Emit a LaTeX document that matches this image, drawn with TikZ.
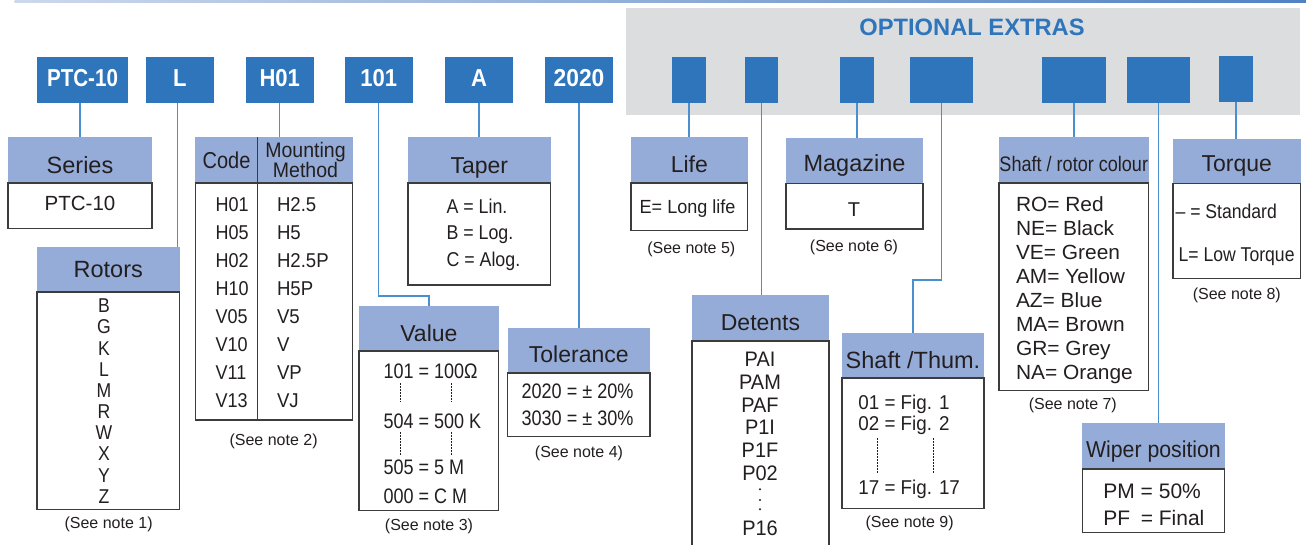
\documentclass[tikz,border=0pt]{standalone}
\usepackage{fontspec}
\setmainfont{Liberation Sans}
\usepackage{graphicx}
\usetikzlibrary{calc}
\definecolor{boxblue}{RGB}{46,117,187}
\definecolor{hdrblue}{RGB}{149,172,216}
\definecolor{panelgray}{RGB}{220,221,223}
\definecolor{connblue}{RGB}{74,143,208}
\definecolor{bordergray}{RGB}{60,60,60}
\definecolor{txt}{RGB}{35,31,32}
\definecolor{optblue}{RGB}{46,117,187}
\definecolor{toplight}{RGB}{205,216,236}
\definecolor{topdark}{RGB}{80,130,195}
\newcommand\setfs[1]{\fontsize{#1}{#1}\selectfont}
\newcommand\hsc[2]{\scalebox{#1}[1]{#2}}
\newcommand\pbox[6]{\node[#1, minimum width={#5-#3}, minimum height={#6-#4}] (#2) at (#3,#4) {};}
\begin{document}
\begin{tikzpicture}[x=1pt,y=-1pt,
  every node/.style={inner sep=0, outer sep=0},
  bluebox/.style={fill=boxblue, anchor=north west},
  hdr/.style={fill=hdrblue, anchor=north west},
  bodyb/.style={draw=bordergray, line width=1.3, anchor=north west},
  conn/.style={draw=connblue, line width=1.2},
  lb/.style={anchor=base, text=txt},
  lbw/.style={anchor=base west, text=txt},
  boxlbl/.style={anchor=base, text=white, font=\bfseries\setfs{24.5}},
  title/.style={anchor=base, text=txt, font=\setfs{23}},
  note/.style={anchor=base, text=txt, font=\setfs{16}},
  dotl/.style={draw=txt, line width=0.6, dash pattern=on 1.5pt off 1.5pt},
  divl/.style={draw=bordergray, line width=1.3},
]
\useasboundingbox (0,0) rectangle (1306,544);
\fill[white] (0,0) rectangle (1306,544);
\shade[left color=toplight, right color=topdark] (14.5,0) rectangle (1306,2);
% optional extras panel
\pbox{fill=panelgray, anchor=north west}{panel}{626}{8}{1300}{115}
\node[anchor=base, text=optblue, font=\bfseries\setfs{23.7}] (opt) at (972,35) {OPTIONAL EXTRAS};

% blue code boxes
\pbox{bluebox}{ptc}{37}{57}{128}{103}
\pbox{bluebox}{L}{146}{57}{213.5}{103}
\pbox{bluebox}{h01}{246}{57}{313.5}{103}
\pbox{bluebox}{v101}{345}{57}{412.5}{103}
\pbox{bluebox}{a}{445}{57}{513}{103}
\pbox{bluebox}{y2020}{545}{57}{613}{103}
\pbox{bluebox}{b1}{672}{57}{706}{103}
\pbox{bluebox}{b2}{745}{57}{778}{103}
\pbox{bluebox}{b3}{840}{57}{874}{103}
\pbox{bluebox}{b4}{910}{57}{973}{103}
\pbox{bluebox}{b5}{1042}{57}{1106}{103}
\pbox{bluebox}{b6}{1127}{57}{1190}{103}
\pbox{bluebox}{b7}{1219}{56}{1253}{102}
\node[boxlbl] (ptc-t) at (ptc.center |- 0,86) {\hsc{0.84}{PTC-10}};
\node[boxlbl] (L-t) at (L.center |- 0,86) {\hsc{0.9}{L}};
\node[boxlbl] (h01-t) at (h01.center |- 0,86) {\hsc{0.9}{H01}};
\node[boxlbl] (v101-t) at (v101.center |- 0,86) {\hsc{0.9}{101}};
\node[boxlbl] (a-t) at (a.center |- 0,86) {\hsc{0.9}{A}};
\node[boxlbl] (y2020-t) at (y2020.center |- 0,86) {\hsc{0.93}{2020}};

% headers and bodies
\pbox{hdr}{series}{8}{137}{152}{183}
\pbox{bodyb}{seriesb}{8}{183}{152}{228.3}
\pbox{hdr}{rotors}{37}{247}{179.5}{292}
\pbox{bodyb}{rotorsb}{37}{292}{179.5}{509.3}
\pbox{hdr}{code}{195.3}{137}{352.8}{183}
\pbox{bodyb}{codeb}{195.3}{183}{352.8}{420}
\pbox{hdr}{taper}{408}{137}{550.6}{183}
\pbox{bodyb}{taperb}{408}{183}{550.6}{285}
\pbox{hdr}{value}{359}{306}{498.8}{351}
\pbox{bodyb}{valueb}{359}{351}{498.8}{510.7}
\pbox{hdr}{tol}{507.5}{328}{650}{373}
\pbox{bodyb}{tolb}{507.5}{373}{650}{436.7}
\pbox{hdr}{life}{631}{137}{747.7}{183}
\pbox{bodyb}{lifeb}{631}{183}{747.7}{230.7}
\pbox{hdr}{mag}{786}{138}{923}{183.3}
\pbox{bodyb}{magb}{786}{183.3}{923}{229}
\pbox{hdr}{col}{999}{137}{1148.5}{183}
\pbox{bodyb}{colb}{999}{183}{1148.5}{390.7}
\pbox{hdr}{torq}{1173}{139}{1300.5}{183.7}
\pbox{bodyb}{torqb}{1173}{183.7}{1300.5}{278.3}
\pbox{hdr}{det}{692}{295}{829}{341}
\pbox{bodyb}{detb}{692}{341}{829}{549}
\pbox{hdr}{thum}{842}{333}{984}{378}
\pbox{bodyb}{thumb}{842}{378}{984}{508.7}
\pbox{hdr}{wip}{1082.4}{423}{1224.5}{469}
\pbox{bodyb}{wipb}{1082.4}{469}{1224.5}{532.7}
\draw[divl] (257.5,137) -- (257.5,420);

% connectors
\draw[conn] (series.north) -- (series.north |- ptc.south);
\draw[conn] ([xshift=-2.3]L.south) -- ([xshift=-2.3]L.south |- rotors.north);
\draw[conn] (h01.south) -- (h01.south |- code.north);
\draw[conn] (v101.south) -- ++(0,193) -| (value.north);
\draw[conn] (a.south) -- (a.south |- taper.north);
\draw[conn] (y2020.south) -- (y2020.south |- tol.north);
\draw[conn] (b1.south) -- (b1.south |- life.north);
\draw[conn] (b2.south) -- (b2.south |- det.north);
\draw[conn] (b3.south) -- (b3.south |- mag.north);
\draw[conn] (b4.south) -- ++(0,177) -| (thum.north);
\draw[conn] (b5.south) -- (b5.south |- col.north);
\draw[conn] (b6.south) -- (b6.south |- wip.north);
\draw[conn] (b7.south) -- (b7.south |- torq.north);

% titles
\node[title, font=\setfs{23.5}] (series-t) at (series.center |- 0,173) {Series};
\node[title, font=\setfs{23.5}] (rotors-t) at (rotors.center |- 0,277) {Rotors};
\node[title] (code-t) at (226.5,168.3) {\hsc{0.87}{Code}};
\node[title, font=\setfs{21}] (mount-t) at (305.5,157) {\hsc{0.93}{Mounting}};
\node[title, font=\setfs{21}] (meth-t) at (305.5,177.5) {\hsc{0.93}{Method}};
\node[title] (taper-t) at (taper.center |- 0,173) {Taper};
\node[title] (value-t) at (value.center |- 0,341) {Value};
\node[title] (tol-t) at (tol.center |- 0,362) {Tolerance};
\node[title] (life-t) at (life.center |- 0,172) {Life};
\node[title, font=\setfs{23.5}] (mag-t) at (mag.center |- 0,171) {Magazine};
\node[title, font=\setfs{21}] (col-t) at (col.center |- 0,171) {\hsc{0.86}{Shaft / rotor colour}};
\node[title] (torq-t) at (torq.center |- 0,171.5) {Torque};
\node[title] (det-t) at (det.center |- 0,330) {Detents};
\node[title, font=\setfs{23.5}] (thum-t) at (thum.center |- 0,368) {Shaft /Thum.};
\node[title] (wip-t) at (wip.center |- 0,457) {\hsc{0.925}{Wiper position}};

% body texts
\node[lb, font=\setfs{20.5}] (series-v) at (80,210.7) {PTC-10};
\foreach \l [count=\i from 0] in {B,G,K,L,M,R,W,X,Y,Z}
  \node[lb, font=\setfs{20}] (rot-\i) at (104,{312.7+21.18*\i}) {\hsc{0.88}{\l}};
\foreach \c/\m [count=\i from 0] in {H01/H2.5,H05/H5,H02/H2.5P,H10/H5P,V05/V5,V10/V,V11/VP,V13/VJ}{
  \node[lbw, font=\setfs{20}] (code-\i) at (215.6,{211+28.07*\i}) {\hsc{0.9}{\c}};
  \node[lbw, font=\setfs{20}] (mount-\i) at (277,{211+28.07*\i}) {\hsc{0.93}{\m}};
}
\node[lbw, font=\setfs{20}] (tap-1) at (446.5,213.3) {\hsc{0.89}{A = Lin.}};
\node[lbw, font=\setfs{20}] (tap-2) at (446.5,239.3) {\hsc{0.89}{B = Log.}};
\node[lbw, font=\setfs{20}] (tap-3) at (446.5,266.7) {\hsc{0.89}{C = Alog.}};
\node[lbw, font=\setfs{21}] (val-1) at (383.5,378.3) {\hsc{0.857}{101 = 100Ω}};
\node[lbw, font=\setfs{21}] (val-2) at (383.5,428.3) {\hsc{0.857}{504 = 500 K}};
\node[lbw, font=\setfs{21}] (val-3) at (383.5,474) {\hsc{0.857}{505 = 5 M}};
\node[lbw, font=\setfs{21}] (val-4) at (383.5,503.3) {\hsc{0.857}{000 = C M}};
\draw[dotl] (400,383) -- (400,402);
\draw[dotl] (451.5,383) -- (451.5,402);
\draw[dotl] (400,432) -- (400,455);
\draw[dotl] (451.5,432) -- (451.5,455);
\node[lbw, font=\setfs{21}] (tol-1) at (521.6,398.3) {\hsc{0.86}{2020 = ± 20\%}};
\node[lbw, font=\setfs{21}] (tol-2) at (521.6,425.7) {\hsc{0.86}{3030 = ± 30\%}};
\node[lbw, font=\setfs{19}] (life-1) at (639.7,213.3) {\hsc{0.95}{E= Long life}};
\node[lb, font=\setfs{20}] (mag-1) at (854,216) {T};
\foreach \t [count=\i from 0] in {RO= Red,NE= Black,VE= Green,AM= Yellow,AZ= Blue,MA= Brown,GR= Grey,NA= Orange}
  \node[lbw, font=\setfs{20.5}] (col-\i) at (1016,{211.7+23.9*\i}) {\hsc{1.02}{\t}};
\node[lbw, font=\setfs{20}] (torq-1) at (1175.6,218.3) {\hsc{0.88}{– = Standard}};
\node[lbw, font=\setfs{20}] (torq-2) at (1178.6,261) {\hsc{0.88}{L= Low Torque}};
\foreach \t [count=\i from 0] in {PAI,PAM,PAF,P1I,P1F,P02}
  \node[lb, font=\setfs{21}] (det-\i) at (760,{366.7+22.7*\i}) {\hsc{0.95}{\t}};
\foreach \yy [count=\i] in {489.3,500,509.3}
  \fill[txt] (760,\yy) circle (1.1);
\node[lb, font=\setfs{21}] (det-16) at (760,535) {\hsc{0.95}{P16}};
\node[lbw, font=\setfs{20}] (thum-1) at (858.4,409.3) {\hsc{0.94}{01 = Fig. 1}};
\node[lbw, font=\setfs{20}] (thum-2) at (858.4,430) {\hsc{0.94}{02 = Fig. 2}};
\node[lbw, font=\setfs{20}] (thum-3) at (858.4,494) {\hsc{0.94}{17 = Fig. 17}};
\draw[dotl] (877.2,438.3) -- (877.2,473.3);
\draw[dotl] (932.8,438.3) -- (932.8,473.3);
\node[lbw, font=\setfs{21}] (wip-1) at (1103.4,498.3) {PM = 50\%};
\node[lbw, font=\setfs{21}] (wip-2) at (1103.4,525) {PF\hspace{4.7pt} = Final};

% notes
\node[note] (n1) at (108.6,528.3) {(See note 1)};
\node[note] (n2) at (273.6,445.6) {(See note 2)};
\node[note] (n3) at (429,530.6) {(See note 3)};
\node[note] (n4) at (579,457.3) {(See note 4)};
\node[note] (n5) at (691.3,253) {(See note 5)};
\node[note] (n6) at (854,251.6) {(See note 6)};
\node[note] (n7) at (1072.8,409.3) {(See note 7)};
\node[note] (n8) at (1236.8,299.3) {(See note 8)};
\node[note] (n9) at (909.6,527.3) {(See note 9)};
\end{tikzpicture}
\end{document}
